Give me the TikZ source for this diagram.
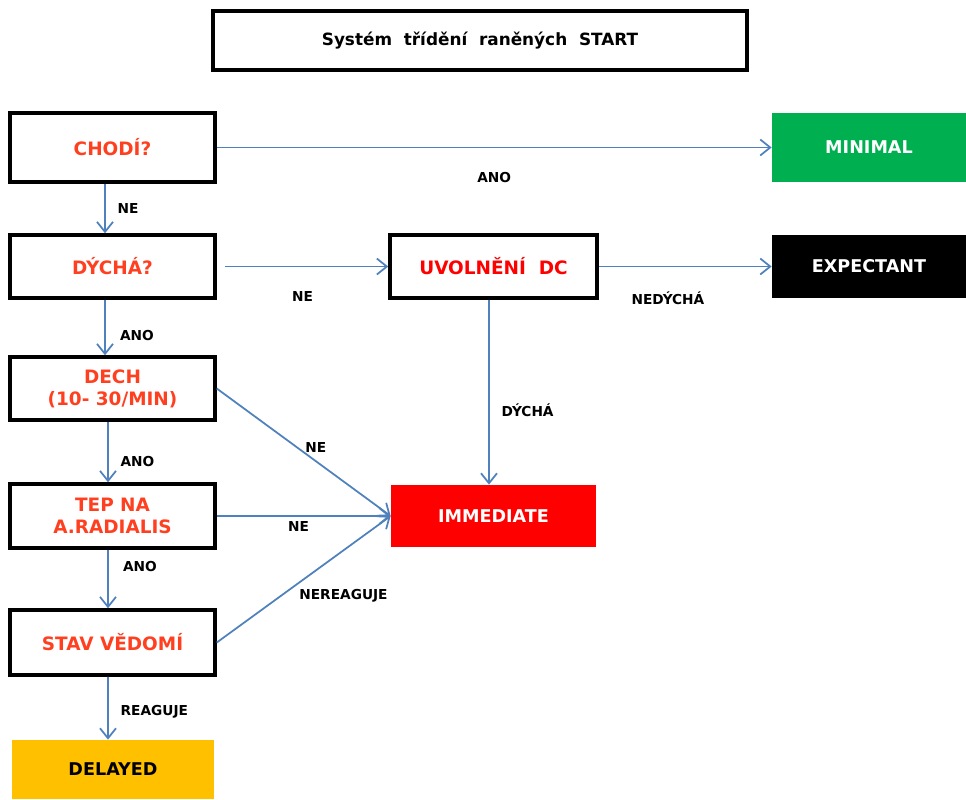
\documentclass[tikz,border=0pt]{standalone}
\usepackage{fontspec}
\setmainfont{DejaVu Sans}
\usetikzlibrary{positioning, arrows.meta}

\definecolor{linkblue}{HTML}{4F81BD}
\definecolor{asktext}{HTML}{FF4020}
\definecolor{mingreen}{HTML}{00B050}
\definecolor{delorange}{HTML}{FFC000}

\begin{document}
\begin{tikzpicture}[
  ask/.style={rectangle, draw, line width=2pt, minimum width=4.1cm, minimum height=1.26cm, align=center, text=asktext, font=\fontsize{10.5}{12.5}\selectfont\bfseries},
  tag/.style={rectangle, minimum width=3.88cm, minimum height=1.26cm, text=white, font=\fontsize{10}{12}\selectfont\bfseries},
  link/.style={->, >={Straight Barb[length=2mm, width=3.2mm]}, draw=linkblue, line width=1pt},
  lbl/.style={font=\fontsize{7.8}{9}\selectfont\bfseries, inner sep=1pt}]
  \useasboundingbox (0,0) rectangle (19.32,-15.98);

  % Create the nodes
  \node (title) [rectangle, draw, line width=2pt, minimum width=10.68cm, minimum height=1.18cm, font=\fontsize{9.6}{11}\selectfont\bfseries] at (9.6,-0.81) {Systém\ \ třídění\ \ raněných\ \ START};

  \node (chodi) [ask, minimum height=1.38cm] at (2.25,-2.95) {CHODÍ?};
  \node (dycha) [ask] at (2.25,-5.33) {DÝCHÁ?};
  \node (dech) [ask] at (2.25,-7.77) {DECH\\(10- 30/MIN)};
  \node (tep) [ask, minimum height=1.28cm] at (2.25,-10.32) {TEP NA\\A.RADIALIS};
  \node (stav) [ask, minimum height=1.3cm] at (2.25,-12.85) {STAV VĚDOMÍ};
  \node (uvolneni) [ask, minimum width=4.14cm, text=red] at (9.87,-5.33) {UVOLNĚNÍ\ \ DC};

  \node (minimal) [tag, fill=mingreen, minimum height=1.38cm] at (17.38,-2.95) {MINIMAL};
  \node (expectant) [tag, fill=black] at (17.38,-5.33) {EXPECTANT};
  \node (immediate) [tag, fill=red, minimum width=4.1cm, minimum height=1.24cm] at (9.87,-10.32) {IMMEDIATE};
  \node (delayed) [tag, fill=delorange, text=black, minimum width=4.04cm, minimum height=1.18cm] at (2.26,-15.39) {DELAYED};

  % Draw the connectors
  \draw [link] (chodi) -- (minimal) node [lbl, midway, below=0.45cm] {ANO};
  \draw [link] ([xshift=-0.15cm]chodi.south) -- ([xshift=-0.15cm]dycha.north) node [lbl, midway, right=0.2cm] {NE};
  \draw [link, shorten <=0.16cm] (dycha) -- (uvolneni) node [lbl, midway, below=0.45cm] {NE};
  \draw [link] (uvolneni) -- (expectant) node [lbl, pos=0.4, below=0.45cm] {NEDÝCHÁ};
  \draw [link] ([xshift=-0.09cm]uvolneni.south) -- ([xshift=-0.09cm]immediate.north) node [lbl, pos=0.6, right=0.2cm] {DÝCHÁ};

  \draw [link] ([xshift=-0.15cm]dycha.south) -- ([xshift=-0.15cm]dech.north) node [lbl, pos=0.65, right=0.25cm] {ANO};
  \draw [link] (dech.east) -- (immediate.west) node [lbl, pos=0.57, above=0.12cm] {NE};
  \draw [link] ([xshift=-0.09cm]dech.south) -- ([xshift=-0.09cm]tep.north) node [lbl, pos=0.65, right=0.2cm] {ANO};
  \draw [link] (tep) -- (immediate) node [lbl, pos=0.47, below=0.05cm] {NE};
  \draw [link] ([xshift=-0.09cm]tep.south) -- ([xshift=-0.09cm]stav.north) node [lbl, pos=0.28, right=0.25cm] {ANO};
  \draw [link] (stav.east) -- (immediate.west) node [lbl, pos=0.46, anchor=north west, yshift=-0.05cm] {NEREAGUJE};
  \draw [link] ([xshift=-0.09cm]stav.south) -- ([xshift=-0.1cm]delayed.north) node [lbl, pos=0.55, right=0.2cm] {REAGUJE};
\end{tikzpicture}
\end{document}
